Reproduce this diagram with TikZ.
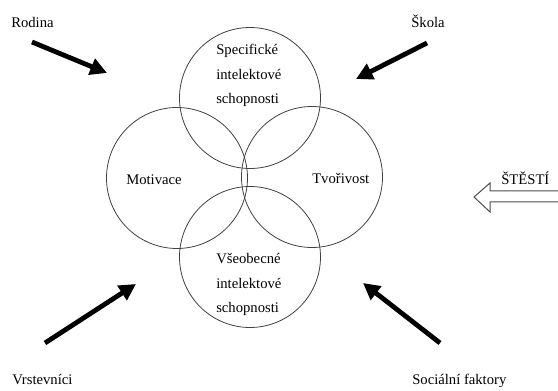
\documentclass[tikz,border=0pt]{standalone}
\usepackage{fontspec}
\setmainfont{Liberation Serif}
\usetikzlibrary{arrows.meta}
\tikzset{
  /tikz/.cd,
  ring/.style={circle,draw=black!75,line width=0.6pt,minimum size=105.75pt,inner sep=0pt},
  push/.style={line width=3.6pt,-{Triangle[length=12.5pt,width=12.5pt]}}
}

\begin{document}
\begin{tikzpicture}[x=0.75pt,y=-0.75pt,
                    factor/.style={anchor=base west,inner sep=0pt,font=\fontsize{11}{13}\selectfont},
                    inside/.style={anchor=north west,inner sep=0pt,align=left,font=\fontsize{11}{18.4}\selectfont}]
      \useasboundingbox (0,0) rectangle (558,391);

      \node[ring] (spec) at (250,98) {};
      \node[ring] (mot) at (177,178) {};
      \node[ring] (tvor) at (312,177) {};
      \node[ring] (vseo) at (250,257) {};

      \node[inside] (spectext) at (216,44) {Specifické\\intelektové\\schopnosti};
      \node[inside] (vseotext) at (216,253) {Všeobecné\\intelektové\\schopnosti};
      \node[factor] (mottext) at (126,185) {Motivace};
      \node[factor] (tvortext) at (312,184) {Tvořivost};

      \node[factor] (rodina) at (11,28) {Rodina};
      \node[factor] (skola) at (411,28) {Škola};
      \node[factor] (vrst) at (12,385) {Vrstevníci};
      \node[factor] (soc) at (412,385) {Sociální faktory};
      \node[factor] (stesti) at (501,185) {ŠTĚSTÍ};

      \coordinate (rodinaend) at (107,73);
      \coordinate (skolaend) at (356,79);
      \coordinate (vrstend) at (136,284);
      \coordinate (socend) at (363,283);
      \draw[push] (32,42) -- (rodinaend);
      \draw[push] (427,43) -- (skolaend);
      \draw[push] (45,343) -- (vrstend);
      \draw[push] (440,343) -- (socend);

      \draw[draw=black!70,line width=0.75pt] (560,191) -- (490,191) -- (490,183) -- (474,197)
        -- (490,212) -- (490,202) -- (560,202);
    \end{tikzpicture}
\end{document}
